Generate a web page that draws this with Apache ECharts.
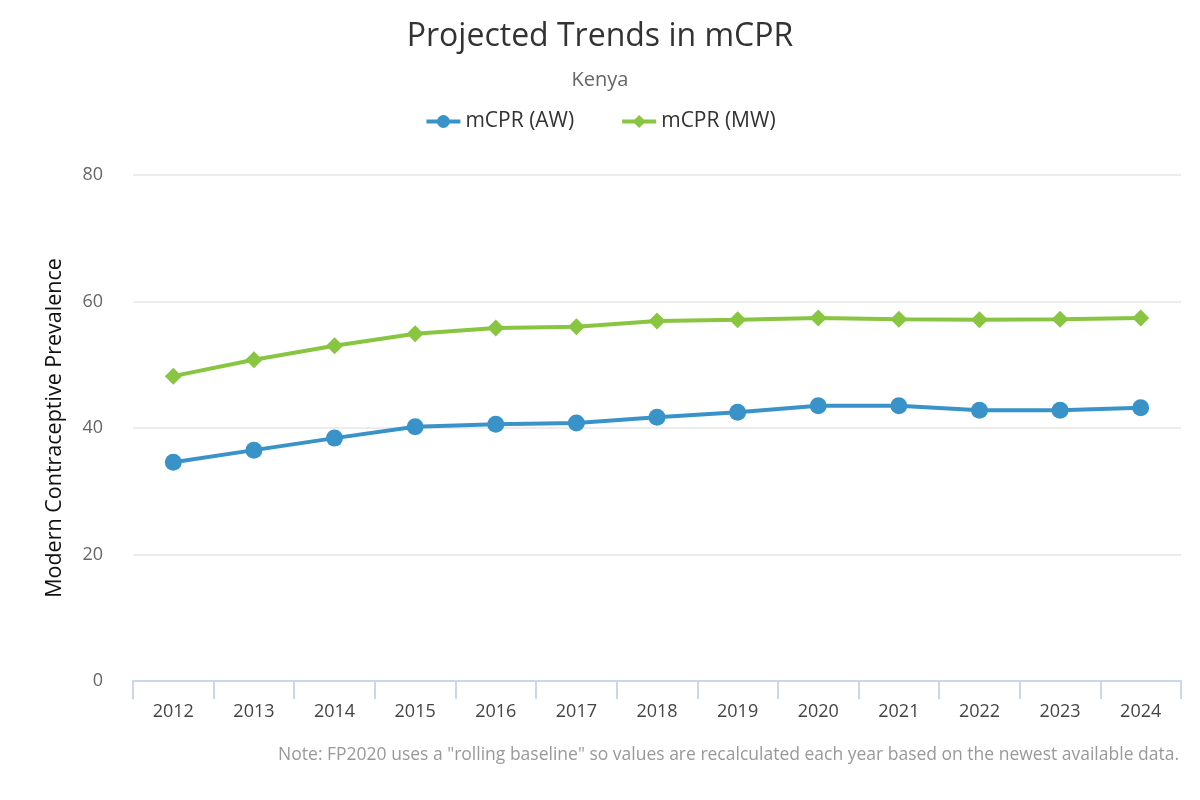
<!DOCTYPE html>
<html>
<head>
<meta charset="utf-8">
<script src="https://cdn.jsdelivr.net/npm/echarts@6/dist/echarts.min.js"></script>
<style>
  html, body { margin: 0; padding: 0; background: #fff; }
  #main { width: 1200px; height: 800px; }
</style>
</head>
<body>
<div id="main"></div>
<script>
var years = ['2012', '2013', '2014', '2015', '2016', '2017', '2018', '2019', '2020', '2021', '2022', '2023', '2024'];
var mcprAW = [34.6, 36.5, 38.4, 40.2, 40.6, 40.8, 41.7, 42.5, 43.5, 43.5, 42.8, 42.8, 43.2];
var mcprMW = [48.2, 50.8, 53.0, 54.9, 55.8, 56.0, 56.9, 57.1, 57.4, 57.2, 57.1, 57.2, 57.4];
var yTicks = [0, 20, 40, 60, 80];

var fontName = '"Open Sans", "Noto Sans", sans-serif';
var myChart = echarts.init(document.getElementById('main'));

var option = {
    textStyle: { fontFamily: fontName },
    title: [{
        text: 'Projected Trends in mCPR',
        left: 'center',
        top: 16,
        textStyle: { fontSize: 32, fontWeight: 'normal', color: '#333', fontFamily: fontName }
    }, {
        text: 'Kenya',
        left: 'center',
        top: 65,
        textStyle: { fontSize: 20, fontWeight: 'normal', color: '#666', fontFamily: fontName }
    }, {
        text: 'Note: FP2020 uses a "rolling baseline" so values are recalculated each year based on the newest available data.',
        right: 16,
        top: 741,
        textStyle: { fontSize: 17.5, fontWeight: 'normal', color: '#999', fontFamily: fontName }
    }],
    legend: {
        top: 106,
        left: 'center',
        itemGap: 46,
        itemWidth: 34,
        itemHeight: 16,
        lineStyle: { width: 4 },
        textStyle: { fontSize: 21, color: '#333', fontFamily: fontName },
        data: ['mCPR (AW)', 'mCPR (MW)']
    },
    grid: {
        left: 133,
        right: 19,
        top: 175,
        bottom: 119
    },
    xAxis: {
        type: 'category',
        data: years,
        boundaryGap: true,
        axisLine: { lineStyle: { color: '#ccd6eb', width: 2 } },
        axisTick: { show: true, length: 18, lineStyle: { color: '#ccd6eb', width: 2 } },
        axisLabel: { fontSize: 18, color: '#444', margin: 22, fontFamily: fontName },
        splitLine: { show: false }
    },
    yAxis: {
        type: 'value',
        min: yTicks[0],
        max: yTicks[yTicks.length - 1],
        interval: 20,
        name: 'Modern Contraceptive Prevalence',
        nameLocation: 'middle',
        nameGap: 67,
        nameTextStyle: { fontSize: 21.5, color: '#111', fontFamily: fontName },
        axisLine: { show: false },
        axisTick: { show: false },
        axisLabel: { fontSize: 18, color: '#666', margin: 30, fontFamily: fontName },
        splitLine: { lineStyle: { color: '#e6e6e6', width: 1.5 } }
    },
    series: [{
        name: 'mCPR (AW)',
        type: 'line',
        data: mcprAW,
        symbol: 'circle',
        symbolSize: 17,
        itemStyle: { color: '#3a93c8' },
        lineStyle: { color: '#3a93c8', width: 4 }
    }, {
        name: 'mCPR (MW)',
        type: 'line',
        data: mcprMW,
        symbol: 'diamond',
        symbolSize: 17,
        itemStyle: { color: '#88c540' },
        lineStyle: { color: '#88c540', width: 4 }
    }]
};

myChart.setOption(option);
</script>
</body>
</html>
